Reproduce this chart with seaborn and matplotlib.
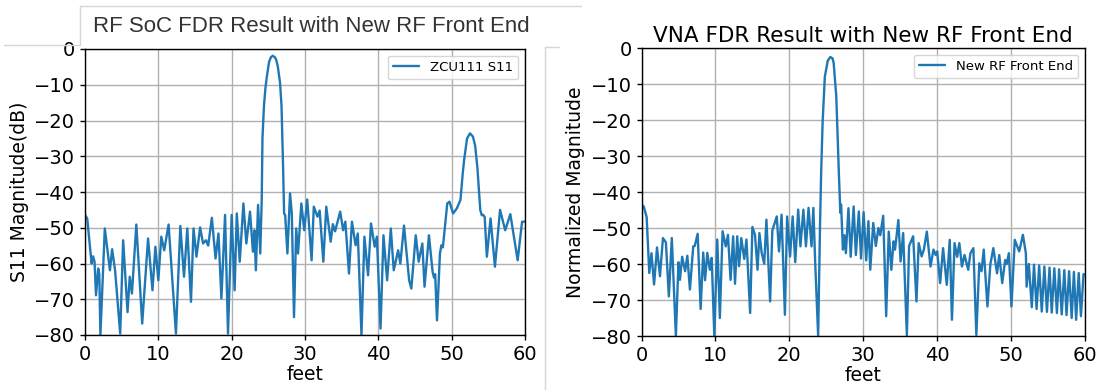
import matplotlib.pyplot as plt
from matplotlib.lines import Line2D
import seaborn as sns

# left panel: RF SoC (ZCU111) S11 trace, peaks and dips
soc_feet = [0.0, 0.3, 0.9, 1.1, 1.3, 1.5, 1.8, 1.95, 2.1, 2.7, 3.4, 3.7, 4.1, 4.8, 5.2, 5.8, 6.1, 6.4,
            7.0, 7.8, 8.6, 9.2, 9.6, 10.0, 10.4, 10.8, 11.4, 12.4, 13.0, 13.5, 13.95, 14.45, 14.8, 15.2,
            15.7, 16.1, 16.5, 16.8, 17.3, 17.8, 18.2, 18.6, 19.1, 19.5, 20.0, 20.4, 20.7, 21.1, 21.6,
            22.0, 22.5, 22.9, 23.1, 23.3, 23.6, 23.9, 24.1, 24.2, 24.4, 24.6, 24.8, 25.1, 25.35, 25.6,
            25.9, 26.1, 26.3, 26.6, 26.8, 27.0, 27.15, 27.3, 27.6, 27.96, 28.2, 28.5, 28.8, 29.05, 29.5,
            29.9, 30.3, 30.9, 31.2, 31.7, 32.0, 32.5, 32.9, 33.5, 33.8, 34.1, 34.8, 35.2, 35.5, 36.0,
            36.4, 36.9, 37.2, 37.7, 38.1, 38.6, 39.0, 39.5, 39.8, 40.3, 40.7, 41.2, 41.7, 42.1, 42.7,
            43.0, 43.5, 44.2, 44.5, 45.1, 45.5, 46.0, 46.3, 46.9, 47.4, 47.6, 47.75, 48.0, 48.4, 48.6,
            48.8, 49.4, 49.7, 50.2, 50.7, 51.2, 51.5, 51.7, 52.1, 52.5, 52.9, 53.2, 53.5, 53.9, 54.1,
            54.3, 54.5, 54.8, 55.3, 55.9, 56.6, 57.3, 58.0, 59.0, 59.6, 60.0]
soc_db = [-46.4, -47.4, -60, -58, -59.5, -68.9, -61.4, -63, -80, -50.2, -61.9, -56, -61.9, -79.6, -53.5,
          -73.6, -63.7, -68.4, -49.1, -76.8, -53, -67.5, -55.3, -64.7, -52.5, -56.3, -49.1, -79.6, -49.5,
          -63.7, -50.2, -70.7, -50.2, -58.1, -49.9, -54.4, -53.5, -55, -47.2, -58.6, -51.6, -69.8, -46.4,
          -79.6, -46.4, -67.5, -46, -59.5, -43.2, -54.4, -45.5, -56.7, -50.7, -61.9, -43.6, -57.2, -42,
          -25, -16, -11, -7.7, -3.6, -2.3, -1.9, -2.3, -3.2, -5, -9.5, -16, -32, -46, -46.5, -57.2,
          -40.4, -46, -75, -50.2, -57.2, -43.2, -50.7, -42.1, -59.1, -44.1, -46.9, -45.2, -59.5, -44.1,
          -53.9, -49, -51, -45.5, -50.7, -48.3, -62.8, -48.3, -54.9, -51.6, -80, -52.5, -63.3, -48.8,
          -55.3, -52.5, -78.2, -52.1, -64.7, -50.2, -61.9, -56.3, -60, -49.4, -64.7, -67, -52.1, -59.5,
          -54.4, -66.5, -52.1, -62.3, -64, -63, -75.9, -57.2, -54.9, -55.5, -43.2, -42.7, -46, -44.6,
          -42.2, -35, -31, -25, -23.6, -24.5, -27, -33, -45, -46.5, -46.4, -47, -58.1, -47.4, -60.9,
          -45, -50.7, -46.2, -59.1, -48.3, -48.3]

# right panel: VNA trace
vna_feet = [0.0, 0.3, 0.7, 1.05, 1.35, 1.7, 2.1, 2.5, 2.9, 3.3, 3.7, 4.1, 4.65, 5.0, 5.2, 5.5, 5.9, 6.2,
            6.55, 7.0, 7.2, 7.6, 8.0, 8.35, 8.6, 8.9, 9.25, 9.5, 9.85, 10.25, 10.6, 10.97, 11.4, 11.7,
            12.05, 12.4, 12.65, 12.95, 13.2, 13.5, 13.9, 14.2, 14.7, 15.0, 15.35, 15.7, 15.95, 16.25,
            16.6, 16.9, 17.4, 17.7, 18.3, 18.6, 18.95, 19.4, 19.7, 20.1, 20.45, 20.8, 21.2, 21.5, 21.9,
            22.25, 22.6, 23.0, 23.25, 23.5, 23.9, 24.15, 24.3, 24.5, 24.8, 25.2, 25.55, 25.85, 26.0,
            26.35, 26.7, 26.9, 27.0, 27.25, 27.45, 27.65, 28.0, 28.3, 28.7, 29.0, 29.4, 29.7, 30.05,
            30.4, 30.7, 30.95, 31.35, 31.7, 32.05, 32.3, 32.7, 33.1, 33.45, 33.8, 34.1, 34.3, 34.75,
            35.05, 35.4, 35.9, 36.2, 36.75, 37.2, 37.5, 37.9, 38.2, 38.6, 39.1, 39.5, 39.8, 40.0, 40.4,
            40.8, 41.3, 41.7, 42.0, 42.35, 42.7, 43.0, 43.35, 43.7, 44.2, 44.5, 44.9, 45.3, 45.7, 46.0,
            46.3, 46.8, 47.2, 47.6, 48.1, 48.4, 48.8, 49.2, 49.4, 49.7, 50.05, 50.5, 51.1, 51.6, 52.0,
            52.1, 52.4, 52.8, 53.1, 53.45, 53.8, 54.15, 54.5, 54.85, 55.2, 55.5, 55.85, 56.2, 56.5,
            56.85, 57.2, 57.5, 57.85, 58.2, 58.5, 58.8, 59.15, 59.45, 59.8, 60.0]
vna_db = [-43.5, -44.0, -47.0, -62.5, -57.0, -65.7, -55.4, -63.4, -52.8, -54, -69, -52.8, -80, -59.5,
          -64.4, -58.0, -62.0, -57.7, -67.1, -55.1, -55.0, -51.6, -72.5, -56.8, -64.5, -56.9, -61.6,
          -58.3, -80, -53.2, -75, -50.9, -55.1, -51.9, -64.4, -52.3, -65.5, -52.3, -60.6, -52.8, -58.6,
          -53.2, -73.6, -49.7, -51.9, -61.6, -51.4, -56.8, -59.9, -47.7, -70.4, -50.7, -46.8, -56.5,
          -46.3, -74.1, -46.8, -57.9, -46.8, -59.5, -44.9, -55.1, -44.9, -55.1, -44.4, -55.1, -44.4,
          -59.7, -80, -49.5, -35, -20.8, -8, -3.5, -2.5, -2.9, -4.2, -13.4, -34.7, -45.8, -43.5, -56,
          -52, -57, -44.5, -58, -44, -57.5, -45.4, -58.5, -45.6, -59, -48.1, -61.6, -48.6, -55, -50,
          -52, -46.6, -74.5, -51, -61.6, -53.7, -56, -47.8, -59.3, -51.4, -79.8, -55, -52.3, -70.4,
          -54.2, -57.9, -56, -51, -60.7, -56, -57.5, -56.5, -65.3, -55.6, -65.8, -53.3, -75.5, -54.2,
          -58, -54.2, -60.7, -57.5, -61.6, -57, -55.6, -79.7, -59.8, -62, -56, -71.8, -60, -55.6,
          -62.6, -57.5, -65.3, -58.9, -60, -57, -71.8, -53.3, -56.5, -51.9, -57, -66.3, -60, -72,
          -60.2, -72.5, -60.4, -73.2, -60.7, -73.3, -61, -73.5, -61.2, -73.6, -61.5, -74, -61.7,
          -74.2, -62, -75, -62.2, -75.5, -62.5, -74.5, -62.8, -63]

x_ticks = [0, 10, 20, 30, 40, 50, 60]
y_ticks = [-80, -70, -60, -50, -40, -30, -20, -10, 0]

sns.set_style("ticks", {"axes.grid": True, "grid.color": "#b0b0b0", "axes.edgecolor": "black",
                        "text.color": "black", "axes.labelcolor": "black",
                        "xtick.color": "black", "ytick.color": "black"})
plt.rcParams['font.family'] = ['DejaVu Sans']
plt.rcParams['grid.linewidth'] = 1.0

fig = plt.figure(figsize=(10.96, 3.9), dpi=100)
ax1 = fig.add_axes([85 / 1096, 1 - 335 / 390, 440 / 1096, 286 / 390])
ax2 = fig.add_axes([641.5 / 1096, 1 - 336 / 390, 443.5 / 1096, 288 / 390])

sns.lineplot(x=soc_feet, y=soc_db, ax=ax1, color="#1f77b4", lw=1.7, label="ZCU111 S11", sort=False)
sns.lineplot(x=vna_feet, y=vna_db, ax=ax2, color="#1f77b4", lw=1.7, label="New RF Front End", sort=False)

for ax in (ax1, ax2):
    ax.set_xlim(0, 60)
    ax.set_ylim(-80, 0)
    ax.set_xticks(x_ticks)
    ax.set_yticks(y_ticks)
    ax.tick_params(labelsize=14, length=3.5, width=1)
    ax.set_xlabel("feet", fontsize=13.5, labelpad=1)
    for s in ax.spines.values():
        s.set_linewidth(1.0)
    ax.legend(loc="upper right", fontsize=9.5, framealpha=0.8, edgecolor="#cccccc")

ax1.set_ylabel("S11 Magnitude(dB)", fontsize=13.5)
ax2.set_ylabel("Normalized Magnitude", fontsize=13.5)
ax2.set_title("VNA FDR Result with New RF Front End", fontsize=15.5, pad=4)

fig.text(311 / 1096, 1 - 27 / 390, "RF SoC FDR Result with New RF Front End", ha="center", va="center",
         fontsize=16, color="#333333", family=["Liberation Sans", "DejaVu Sans"])

# screenshot frame lines around the left title
frame = [([80, 581], [6, 6]), ([80, 80], [6, 45]), ([4, 80], [45, 45]),
         ([545, 559], [47, 47]), ([545, 545], [47, 390])]
for xs, ys in frame:
    fig.add_artist(Line2D([x / 1096 for x in xs], [1 - y / 390 for y in ys],
                          transform=fig.transFigure, color="#d6d6d6", lw=1))

fig.savefig("out.png", dpi=100)
